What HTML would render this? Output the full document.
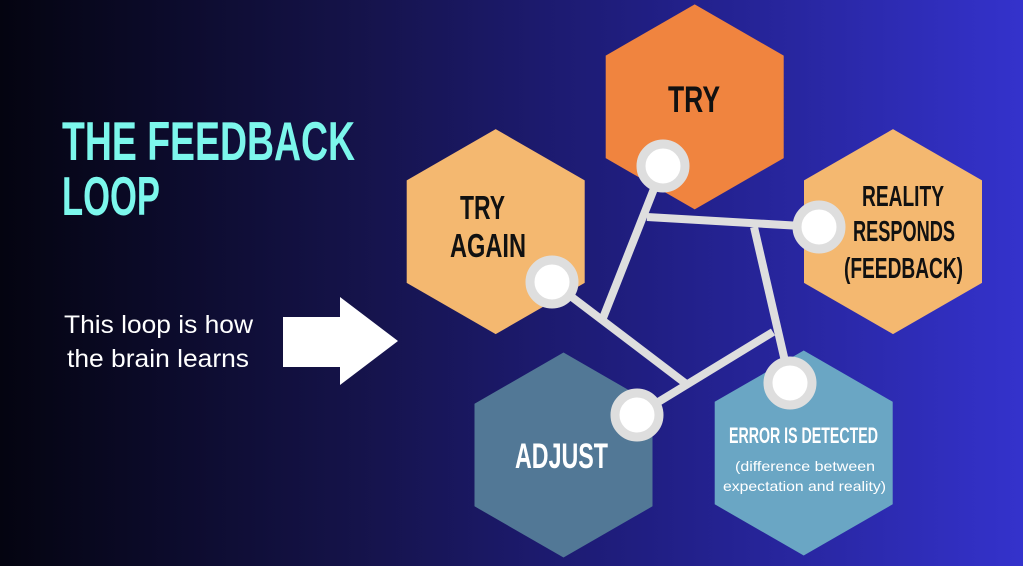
<!DOCTYPE html>
<html><head><meta charset="utf-8"><style>html,body{margin:0;padding:0;width:1023px;height:566px;overflow:hidden}</style></head>
<body>
<svg width="1023" height="566" viewBox="0 0 1023 566" xmlns="http://www.w3.org/2000/svg" font-family="Liberation Sans, sans-serif">
<defs>
<linearGradient id="bg" x1="0" y1="0" x2="1" y2="0">
<stop offset="0" stop-color="#040410"/>
<stop offset="0.35" stop-color="#15134a"/>
<stop offset="0.65" stop-color="#211f86"/>
<stop offset="1" stop-color="#3432cc"/>
</linearGradient>
</defs>
<rect width="1023" height="566" fill="url(#bg)"/>
<g font-weight="bold" fill="#7cf7ec" font-size="55">
<text x="62" y="160" textLength="293" lengthAdjust="spacingAndGlyphs">THE FEEDBACK</text>
<text x="62" y="215" textLength="98" lengthAdjust="spacingAndGlyphs">LOOP</text>
</g>
<g fill="#fff" font-size="25">
<text x="64" y="333" textLength="189" lengthAdjust="spacingAndGlyphs">This loop is how</text>
<text x="67" y="367" textLength="182" lengthAdjust="spacingAndGlyphs">the brain learns</text>
</g>
<polygon points="283,317 340,317 340,297 398,341 340,385 340,367 283,367" fill="#fff"/>
<g>
<polygon points="694.7,4.4 783.7,55.6 783.7,158.1 694.7,209.4 605.7,158.1 605.7,55.6" fill="#f0843f"/>
<polygon points="495.7,129.1 584.7,180.4 584.7,282.9 495.7,334.1 406.7,282.9 406.7,180.4" fill="#f4b870"/>
<polygon points="893,129.1 982,180.4 982,282.9 893,334.1 804,282.9 804,180.4" fill="#f4b870"/>
<polygon points="563.5,352.5 652.5,403.8 652.5,506.3 563.5,557.5 474.5,506.3 474.5,403.8" fill="#527896"/>
<polygon points="803.7,350.5 892.7,401.8 892.7,504.3 803.7,555.5 714.7,504.3 714.7,401.8" fill="#6aa6c4"/>
</g>
<g stroke="#dedede" stroke-width="8" stroke-linecap="butt" fill="none">
<line x1="663" y1="166" x2="603" y2="318"/>
<line x1="647" y1="217" x2="819" y2="227"/>
<line x1="754" y1="227" x2="790" y2="383"/>
<line x1="552" y1="282" x2="685" y2="383"/>
<line x1="637" y1="415" x2="773" y2="332"/>
</g>
<g fill="#fff" stroke="#dedede" stroke-width="9">
<circle cx="663" cy="166" r="22"/>
<circle cx="819" cy="227" r="22"/>
<circle cx="552" cy="282" r="22"/>
<circle cx="637" cy="415" r="22"/>
<circle cx="790" cy="383" r="22"/>
</g>
<g font-weight="bold" fill="#111">
<text x="668" y="112" font-size="37" textLength="52" lengthAdjust="spacingAndGlyphs">TRY</text>
<text x="460" y="219" font-size="33" textLength="45" lengthAdjust="spacingAndGlyphs">TRY</text>
<text x="450" y="257" font-size="33" textLength="76" lengthAdjust="spacingAndGlyphs">AGAIN</text>
<text x="862" y="206" font-size="29" textLength="82" lengthAdjust="spacingAndGlyphs">REALITY</text>
<text x="853" y="241" font-size="29" textLength="102" lengthAdjust="spacingAndGlyphs">RESPONDS</text>
<text x="844" y="278" font-size="29" textLength="119" lengthAdjust="spacingAndGlyphs">(FEEDBACK)</text>
</g>
<g fill="#fff">
<text x="515" y="468" font-size="35" font-weight="bold" textLength="93" lengthAdjust="spacingAndGlyphs">ADJUST</text>
<text x="729" y="443" font-size="22" font-weight="bold" textLength="149" lengthAdjust="spacingAndGlyphs">ERROR IS DETECTED</text>
<text x="735" y="471" font-size="14" textLength="140" lengthAdjust="spacingAndGlyphs">(difference between</text>
<text x="723" y="491" font-size="14" textLength="163" lengthAdjust="spacingAndGlyphs">expectation and reality)</text>
</g>
</svg>
</body></html>
